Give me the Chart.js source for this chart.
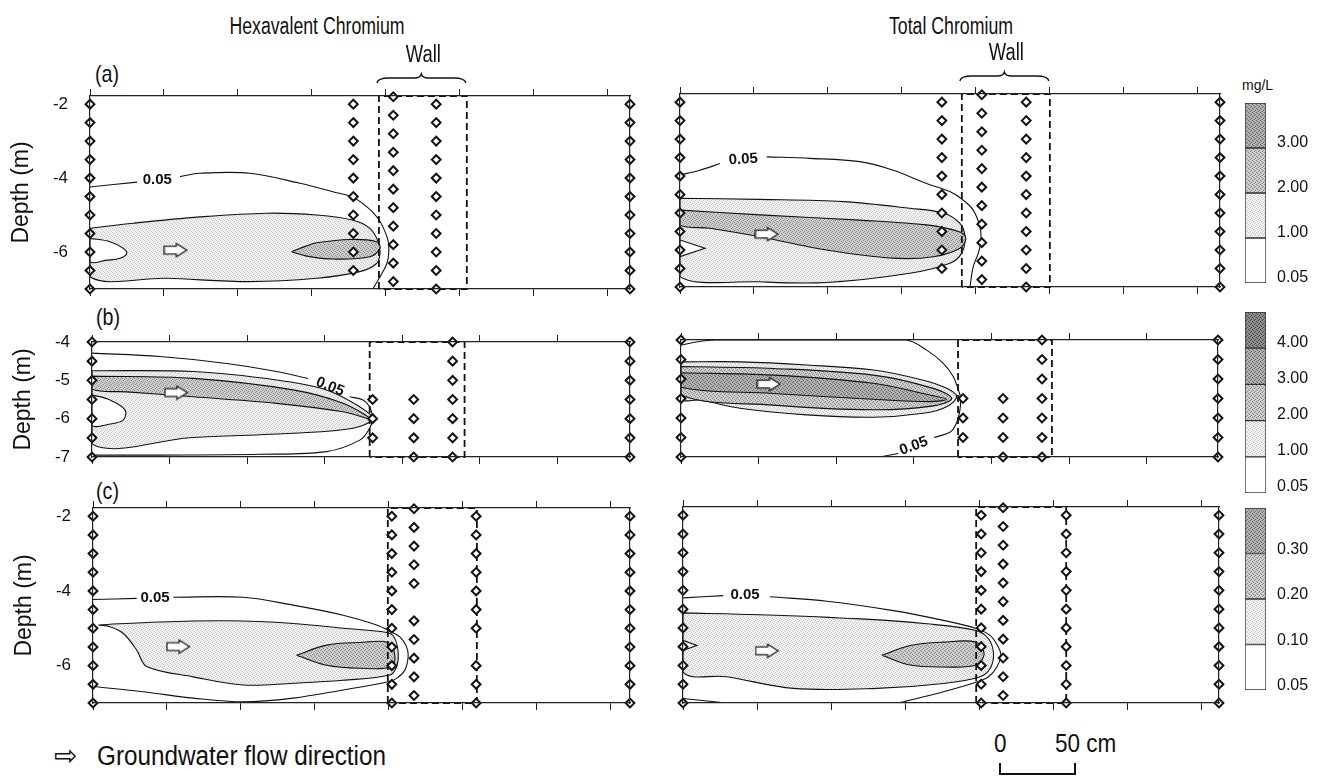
<!DOCTYPE html>
<html>
<head>
<meta charset="utf-8">
<title>Chromium plume cross-sections</title>
<script src="https://cdn.jsdelivr.net/npm/chart.js@4.4.1/dist/chart.umd.min.js"></script>
<style>
  html, body { margin:0; padding:0; background:#fff; }
  #fig { position:relative; width:1322px; height:779px; overflow:hidden; background:#fff;
         font-family:"Liberation Sans", Arial, Helvetica, sans-serif; color:#111; }
  #fig canvas { position:absolute; }
  .t { position:absolute; white-space:nowrap; line-height:1; }
  .n { transform-origin:0 50%; transform:scaleX(0.82); }
  .c { transform:translateX(-50%) scaleX(0.77); }
</style>
</head>
<body>
<div id="fig">
  <div class="t c" style="left:317px;top:15px;font-size:23px;">Hexavalent Chromium</div>
  <div class="t c" style="left:951px;top:15px;font-size:23px;">Total Chromium</div>
  <div class="t n" style="left:95px;top:62px;font-size:24px;">(a)</div>
  <div class="t n" style="left:96px;top:305px;font-size:24px;">(b)</div>
  <div class="t n" style="left:96px;top:479px;font-size:24px;">(c)</div>
  <div class="t" style="left:1242px;top:78px;font-size:14px;">mg/L</div>
  <div class="t" style="left:54px;top:742px;font-size:28px;font-family:'DejaVu Sans',sans-serif;">&#8680;</div>
  <div class="t n" style="left:97px;top:743px;font-size:27px;transform:scaleX(0.9);">Groundwater flow direction</div>
  <div class="t" style="left:994px;top:731px;font-size:25px;transform-origin:0 50%;transform:scaleX(0.9);">0</div>
  <div class="t n" style="left:1055px;top:731px;font-size:25px;transform:scaleX(0.9);">50 cm</div>
  <div style="position:absolute;left:999px;top:763px;width:73px;height:10px;border:2px solid #111;border-top:none;"></div>
</div>
<script>
// ---------------- DATA ----------------
// x: distance along the flow path (cm), y: depth (m)
const X_TICKS = [0, 50, 100, 150, 200, 250, 300, 350];
const Y_TICKS_AC = [-2, -4, -6];
const Y_TICKS_B = [-4, -5, -6, -7];

// sampling depths of the monitoring wells (m)
const D_FULL = [-2, -2.5, -3, -3.5, -4, -4.5, -5, -5.5, -6, -6.5, -7];
const D_UP   = [-2, -2.5, -3, -3.5, -4, -4.5, -5, -5.5, -6, -6.5];
const D_OFF  = [-1.8, -2.3, -2.8, -3.3, -3.8, -4.3, -4.8, -5.3, -5.8, -6.3, -6.8];
const D_B    = [-4, -4.5, -5, -5.5, -6, -6.5, -7];
const D_B3   = [-5.5, -6, -6.5];
const D_B4   = [-5.5, -6, -6.5, -7];
const D_C_MID = [-1.8, -2.3, -2.8, -3.3, -3.8, -4.8, -5.3, -5.8, -6.3, -6.8];
const D_C_WALL = [-2, -2.5, -3, -3.5, -4, -4.5, -5, -6, -6.5, -7];

// well columns (x in cm)
const wellsA_hex = [{x:0,d:D_FULL},{x:178,d:D_UP},{x:205,d:D_OFF},{x:234,d:D_FULL},{x:365,d:D_FULL}];
const wellsA_tot = [{x:0,d:D_FULL},{x:177,d:D_UP},{x:204,d:D_OFF},{x:234,d:D_FULL},{x:365,d:D_FULL}];
const wellsB_hex = [{x:0,d:D_B},{x:181,d:D_B3},{x:207.5,d:D_B4},{x:232.6,d:D_B},{x:347,d:D_B}];
const wellsB_tot = [{x:0,d:D_B},{x:181.7,d:D_B3},{x:207.5,d:D_B4},{x:232.6,d:D_B},{x:346,d:D_B}];
const wellsC_hex = [{x:0,d:D_FULL},{x:202,d:D_FULL},{x:217,d:D_C_MID},{x:259,d:D_C_WALL},{x:363,d:D_FULL}];
const wellsC_tot = [{x:0,d:D_FULL},{x:201.4,d:D_FULL},{x:216.2,d:D_OFF},{x:258.8,d:D_FULL},{x:362,d:D_FULL}];

// reactive wall extent (cm)
const wallA_hex = [195.3, 254.7], wallA_tot = [190.5, 250];
const wallB_hex = [179.1, 240.3], wallB_tot = [178.5, 239];
const wallC_hex = [199.3, 259.5], wallC_tot = [198, 258.8];

// flow-direction arrow positions
const arrowA_hex = [{x:58, y:-5.95}], arrowA_tot = [{x:58.8, y:-5.57}];
const arrowB_hex = [{x:54.4, y:-5.32}], arrowB_tot = [{x:56.7, y:-5.13}];
const arrowC_hex = [{x:57.8, y:-5.49}], arrowC_tot = [{x:56.8, y:-5.61}];

// ---- contours, panel (a) hexavalent ----
const hexA_c005a = [{x:0,y:-4.24},{x:31.8,y:-4.11}];
const hexA_c005b = [{x:60.8,y:-3.96},{x:74.3,y:-3.87},{x:108.1,y:-3.87},{x:141.9,y:-4.14},{x:164.2,y:-4.37},{x:177.7,y:-4.52},{x:187.2,y:-4.78},{x:193.9,y:-5.05},{x:198,y:-5.32},{x:201.4,y:-5.68},{x:202,y:-5.99},{x:200.7,y:-6.31},{x:197.3,y:-6.58},{x:191.2,y:-7.0}];
const hexA_c1 = [{x:0,y:-5.36},{x:29.3,y:-5.22},{x:74.3,y:-5.05},{x:119.4,y:-4.95},{x:153.2,y:-5.0},{x:177.9,y:-5.14},{x:189.2,y:-5.36},{x:194.8,y:-5.72},{x:196,y:-6.04},{x:193.7,y:-6.31},{x:182.4,y:-6.53},{x:153.2,y:-6.71},{x:108.1,y:-6.8},{x:51.8,y:-6.71},{x:0,y:-6.67},{x:0,y:-5.36}];
const hexA_hole = [{x:0,y:-5.63},{x:13.5,y:-5.72},{x:22.5,y:-5.9},{x:24.8,y:-6.04},{x:20.3,y:-6.17},{x:11.3,y:-6.22},{x:0,y:-6.26},{x:0,y:-5.63}];
const hexA_c2 = [{x:136.3,y:-5.99},{x:146,y:-5.84},{x:153.2,y:-5.75},{x:175.7,y:-5.66},{x:193.7,y:-5.72},{x:196,y:-5.9},{x:189.2,y:-6.13},{x:164.4,y:-6.19},{x:146.4,y:-6.11},{x:136.3,y:-5.99}];
const hexA_lbl = [{x:45.5, y:-4.05, text:'0.05', rot:0}];

// ---- contours, panel (a) total ----
const totA_c005a = [{x:0,y:-3.97},{x:13.5,y:-3.84},{x:27,y:-3.66}];
const totA_c005b = [{x:58.6,y:-3.48},{x:87.8,y:-3.52},{x:121.6,y:-3.61},{x:144.1,y:-3.84},{x:166.7,y:-4.2},{x:182.4,y:-4.42},{x:191.4,y:-4.65},{x:198.2,y:-4.92},{x:202.7,y:-5.37},{x:203.4,y:-5.73},{x:201.6,y:-6.09},{x:198.2,y:-6.45},{x:196,y:-7}];
const totA_c1 = [{x:0,y:-4.6},{x:54,y:-4.63},{x:110.4,y:-4.69},{x:155.4,y:-4.87},{x:177.9,y:-5.0},{x:189.2,y:-5.28},{x:192.6,y:-5.64},{x:190.3,y:-6.09},{x:182.4,y:-6.36},{x:155.4,y:-6.63},{x:99.1,y:-6.88},{x:54,y:-6.86},{x:0,y:-6.72},{x:0,y:-4.6}];
const totA_c2 = [{x:0,y:-4.92},{x:54,y:-5.05},{x:121.6,y:-5.19},{x:166.7,y:-5.32},{x:189.2,y:-5.51},{x:193.2,y:-5.68},{x:189.2,y:-5.95},{x:171.2,y:-6.18},{x:144.1,y:-6.22},{x:99.1,y:-6.0},{x:54,y:-5.64},{x:20.3,y:-5.41},{x:0,y:-5.32},{x:0,y:-4.92}];
const totA_hole = [{x:0,y:-5.73},{x:16.9,y:-5.95},{x:0,y:-6.18},{x:0,y:-5.73}];
const totA_lbl = [{x:42.8, y:-3.55, text:'0.05', rot:-4}];

// ---- contours, panel (b) hexavalent ----
const hexB_c005a = [{x:0,y:-4.29},{x:43.8,y:-4.38},{x:86.8,y:-4.56},{x:119,y:-4.77},{x:139.4,y:-4.95}];
const hexB_c005b = [{x:166.2,y:-5.43},{x:174.8,y:-5.51},{x:179.1,y:-5.69},{x:180.9,y:-6.0},{x:179.1,y:-6.25},{x:172.7,y:-6.56},{x:151.2,y:-6.86},{x:108.2,y:-6.93},{x:43.8,y:-6.95},{x:0,y:-6.95}];
const hexB_c1 = [{x:0,y:-4.75},{x:65.3,y:-4.77},{x:119,y:-4.99},{x:151.2,y:-5.25},{x:172.7,y:-5.69},{x:180.9,y:-6.0},{x:168.4,y:-6.25},{x:129.7,y:-6.38},{x:65.3,y:-6.49},{x:0,y:-6.66},{x:0,y:-4.75}];
const hexB_c2 = [{x:0,y:-4.89},{x:65.3,y:-4.95},{x:129.7,y:-5.25},{x:161.9,y:-5.6},{x:179.1,y:-6.0},{x:161.9,y:-5.82},{x:119,y:-5.6},{x:65.3,y:-5.43},{x:22.3,y:-5.3},{x:0,y:-5.23},{x:0,y:-4.89}];
const hexB_hole = [{x:0,y:-5.38},{x:11.6,y:-5.51},{x:21.3,y:-5.77},{x:20.2,y:-6.03},{x:11.6,y:-6.14},{x:0,y:-6.17},{x:0,y:-5.38}];
const hexB_lbl = [{x:153.5, y:-5.17, text:'0.05', rot:22}];

// ---- contours, panel (b) total ----
const totB_c005a = [{x:0,y:-4.13},{x:10,y:-4.05},{x:22,y:-4.0},{x:80,y:-4.0},{x:145,y:-4.0},{x:158.3,y:-4.26},{x:169,y:-4.6},{x:175.5,y:-4.94},{x:178.7,y:-5.28},{x:180.2,y:-5.5},{x:179.5,y:-5.85},{x:177.4,y:-6.14},{x:173.5,y:-6.36},{x:163,y:-6.5}];
const totB_c005b = [{x:140,y:-6.91},{x:128,y:-7.0}];
const totB_c1 = [{x:0,y:-4.56},{x:38,y:-4.56},{x:81,y:-4.64},{x:123.9,y:-4.77},{x:156.1,y:-5.03},{x:171.2,y:-5.24},{x:177.6,y:-5.45},{x:171.2,y:-5.71},{x:156.1,y:-5.88},{x:123.9,y:-5.98},{x:81,y:-5.92},{x:38,y:-5.75},{x:12.2,y:-5.54},{x:0,y:-5.51},{x:0,y:-4.56}];
const totB_c2 = [{x:0,y:-4.68},{x:59.5,y:-4.73},{x:123.9,y:-4.9},{x:162.6,y:-5.24},{x:174.4,y:-5.5},{x:162.6,y:-5.69},{x:123.9,y:-5.79},{x:59.5,y:-5.67},{x:0,y:-5.41},{x:0,y:-4.68}];
const totB_c3 = [{x:0,y:-4.84},{x:59.5,y:-4.9},{x:123.9,y:-5.11},{x:160.4,y:-5.41},{x:171.2,y:-5.52},{x:160.4,y:-5.58},{x:123.9,y:-5.52},{x:59.5,y:-5.37},{x:0,y:-5.21},{x:0,y:-4.84}];
const totB_lbl = [{x:150, y:-6.72, text:'0.05', rot:-20}];

// ---- contours, panel (c) hexavalent ----
const hexC_c005a = [{x:0,y:-4.23},{x:29.5,y:-4.2}];
const hexC_c005b = [{x:54.3,y:-4.17},{x:101.6,y:-4.17},{x:135.3,y:-4.38},{x:169.1,y:-4.65},{x:191.7,y:-4.91},{x:199.5,y:-5.05},{x:207.4,y:-5.23},{x:211.9,y:-5.49},{x:213,y:-5.76},{x:210.8,y:-6.12},{x:205.2,y:-6.34},{x:199.5,y:-6.43},{x:169.1,y:-6.65},{x:135.3,y:-6.87},{x:101.6,y:-6.97},{x:67.8,y:-6.87},{x:34,y:-6.7},{x:0,y:-6.56}];
const hexC_c01 = [{x:3.6,y:-4.91},{x:45.3,y:-4.83},{x:90.3,y:-4.8},{x:135.3,y:-4.87},{x:169.1,y:-5.0},{x:199.5,y:-5.12},{x:204,y:-5.27},{x:206.3,y:-5.67},{x:205.2,y:-6.03},{x:200.7,y:-6.25},{x:169.1,y:-6.39},{x:135.3,y:-6.47},{x:101.6,y:-6.52},{x:67.8,y:-6.3},{x:36.3,y:-6.02},{x:29.5,y:-5.58},{x:20.5,y:-5.14},{x:11.5,y:-4.96},{x:3.6,y:-4.91}];
const hexC_c02 = [{x:137.6,y:-5.72},{x:157.9,y:-5.45},{x:180.4,y:-5.38},{x:199.5,y:-5.38},{x:204,y:-5.72},{x:201.8,y:-6.03},{x:180.4,y:-6.07},{x:157.9,y:-5.99},{x:137.6,y:-5.72}];
const hexC_lbl = [{x:41.9, y:-4.19, text:'0.05', rot:0}];

// ---- contours, panel (c) total ----
const totC_c005a = [{x:0,y:-4.2},{x:27.2,y:-4.14}];
const totC_c005b = [{x:58.8,y:-4.17},{x:97.1,y:-4.29},{x:142.1,y:-4.54},{x:175.9,y:-4.8},{x:198.4,y:-5.02},{x:207.4,y:-5.2},{x:213,y:-5.51},{x:214.7,y:-5.73},{x:212,y:-6.04},{x:206.3,y:-6.3},{x:198.4,y:-6.44},{x:175.9,y:-6.7},{x:146.6,y:-6.99}];
const totC_c005c = [{x:0,y:-6.88},{x:29.5,y:-7.0}];
const totC_c01 = [{x:0,y:-4.6},{x:52,y:-4.65},{x:119.6,y:-4.76},{x:164.7,y:-4.89},{x:198,y:-5.07},{x:206.3,y:-5.29},{x:209.7,y:-5.69},{x:207.4,y:-6.08},{x:200.7,y:-6.3},{x:175.9,y:-6.48},{x:130.9,y:-6.61},{x:74.5,y:-6.61},{x:29.5,y:-6.3},{x:0,y:-6.17},{x:0,y:-4.6}];
const totC_hole = [{x:0,y:-5.33},{x:9.3,y:-5.47},{x:0,y:-5.6},{x:0,y:-5.33}];
const totC_c02 = [{x:134.3,y:-5.73},{x:153.4,y:-5.47},{x:175.9,y:-5.38},{x:198,y:-5.38},{x:203.4,y:-5.69},{x:198,y:-5.99},{x:175.9,y:-6.04},{x:153.4,y:-5.99},{x:134.3,y:-5.73}];
const totC_lbl = [{x:41.9, y:-4.13, text:'0.05', rot:0}];

// colour-bar levels
const cbA_labels = ['0.05', '1.00', '2.00', '3.00'];
const cbB_labels = ['0.05', '1.00', '2.00', '3.00', '4.00'];
const cbC_labels = ['0.05', '0.10', '0.20', '0.30'];

// ---------------- STYLE ----------------
const FONT = '"Liberation Sans", Arial, Helvetica, sans-serif';
function stipple(base, dot) {
  const c = document.createElement('canvas');
  c.width = 4; c.height = 4;
  const g = c.getContext('2d');
  g.fillStyle = base; g.fillRect(0, 0, 4, 4);
  g.fillStyle = dot;
  [[0,0],[2,1],[1,2],[3,3]].forEach(p => g.fillRect(p[0], p[1], 1, 1));
  return g.createPattern(c, 'repeat');
}
const G0 = '#ffffff';
const G1 = stipple('#efefef', '#cbcbcb');
const G2 = stipple('#cdcdcd', '#8a8a8a');
const G3 = stipple('#b0b0b0', '#6a6a6a');
const G4 = stipple('#8c8c8c', '#4a4a4a');
const cbA_colors = [G0, G1, G2, G3];
const cbB_colors = [G0, G1, G2, G3, G4];
const cbC_colors = [G0, G1, G2, G3];

const fig = document.getElementById('fig');

function makeArrow(w, h) {
  const c = document.createElement('canvas');
  c.width = w; c.height = h;
  const g = c.getContext('2d');
  const sh = h * 0.24, hx = w * 0.52;
  g.fillStyle = '#fff'; g.strokeStyle = '#222'; g.lineWidth = 1.3; g.lineJoin = 'miter';
  g.beginPath();
  g.moveTo(1, h/2 - sh); g.lineTo(hx, h/2 - sh); g.lineTo(hx, 1.5);
  g.lineTo(w - 1.5, h/2); g.lineTo(hx, h - 1.5); g.lineTo(hx, h/2 + sh); g.lineTo(1, h/2 + sh);
  g.closePath(); g.fill(); g.stroke();
  return c;
}
const arrowImg = makeArrow(25, 16);

function wellPoints(cols) {
  const pts = [];
  cols.forEach(c => c.d.forEach(d => pts.push({x: c.x, y: d})));
  return pts;
}
function wallBox(w, ymax) {
  return [{x:w[0],y:-7},{x:w[0],y:ymax},{x:w[1],y:ymax},{x:w[1],y:-7},{x:w[0],y:-7}];
}

function textPlugin(items) {
  return {
    id: 'contourText',
    afterDatasetsDraw(chart) {
      const ctx = chart.ctx, sx = chart.scales.x, sy = chart.scales.y;
      items.forEach(it => {
        ctx.save();
        ctx.translate(sx.getPixelForValue(it.x), sy.getPixelForValue(it.y));
        ctx.rotate((it.rot || 0) * Math.PI / 180);
        ctx.font = 'bold 15px ' + FONT;
        ctx.fillStyle = '#111';
        ctx.textAlign = 'center'; ctx.textBaseline = 'middle';
        ctx.fillText(it.text, 0, 0);
        ctx.restore();
      });
    }
  };
}

function bracePlugin(wall) {
  return {
    id: 'wallBrace',
    afterDraw(chart) {
      const ctx = chart.ctx, sx = chart.scales.x, ca = chart.chartArea;
      const x0 = sx.getPixelForValue(wall[0]) - 2, x1 = sx.getPixelForValue(wall[1]) - 1, xm = (x0 + x1) / 2;
      const yb = ca.top - 13, ym = ca.top - 18, yt = ca.top - 22;
      ctx.save();
      ctx.strokeStyle = '#111'; ctx.lineWidth = 1.3;
      ctx.beginPath();
      ctx.moveTo(x0, yb);
      ctx.quadraticCurveTo(x0 + 1, ym, x0 + 12, ym);
      ctx.lineTo(xm - 7, ym);
      ctx.quadraticCurveTo(xm - 1, ym, xm, yt);
      ctx.quadraticCurveTo(xm + 1, ym, xm + 7, ym);
      ctx.lineTo(x1 - 12, ym);
      ctx.quadraticCurveTo(x1 - 1, ym, x1, yb);
      ctx.stroke();
      ctx.translate(xm + 2, ca.top - 40);
      ctx.scale(0.8, 1);
      ctx.font = '23px ' + FONT;
      ctx.fillStyle = '#111'; ctx.textAlign = 'center'; ctx.textBaseline = 'middle';
      ctx.fillText('Wall', 0, 0);
      ctx.restore();
    }
  };
}

function xAxis(pos, xmax, h) {
  return {
    type: 'linear', position: pos, axis: 'x', min: 0, max: xmax,
    afterBuildTicks: sc => { sc.ticks = X_TICKS.filter(v => v <= xmax).map(v => ({value: v})); },
    ticks: {display: false},
    grid: {display: true, drawOnChartArea: false, drawTicks: true, tickLength: 7, color: '#222', lineWidth: 1},
    border: {display: true, color: '#222', width: 1.2, z: 1},
    afterFit: sc => { sc.height = h; sc.paddingLeft = 0; sc.paddingRight = 0; }
  };
}

function buildPanel(g, s) {
  const yW = g.labels ? 90 : 10, rW = 10, topH = g.topH || 12, botH = 12;
  const W = yW + g.w + rW, H = topH + g.h + botH;
  const cv = document.createElement('canvas');
  cv.width = W; cv.height = H;
  cv.style.left = (g.x - yW) + 'px'; cv.style.top = (g.y - topH) + 'px';
  cv.style.width = W + 'px'; cv.style.height = H + 'px';
  fig.appendChild(cv);

  const ds = [];
  ds.push({label: 'wells', data: wellPoints(s.wells), showLine: false, pointStyle: 'rectRot',
           pointRadius: 4.4, pointBorderWidth: 2, pointBorderColor: '#111', pointBackgroundColor: '#fff',
           borderColor: '#111', backgroundColor: '#fff', clip: false, order: 0});
  ds.push({label: 'flow', data: s.arrow, showLine: false, pointStyle: arrowImg, pointRadius: 6, clip: false, order: 1});
  ds.push({label: 'wall', data: wallBox(s.wall, s.ymax), showLine: true, fill: false, borderColor: '#111',
           borderWidth: 1.8, borderDash: [7, 4], pointRadius: 0, tension: 0, clip: false, order: 2});
  s.lines.forEach(ln => ds.push({
    label: ln.name, data: ln.data, showLine: true,
    fill: ln.fill ? 'shape' : false, backgroundColor: ln.fill || 'rgba(0,0,0,0)',
    borderColor: '#111', borderWidth: 1.1, pointRadius: 0,
    tension: (ln.tension === undefined ? 0.35 : ln.tension), order: ln.order
  }));

  const plugins = [textPlugin(s.labels)];
  if (s.brace) plugins.push(bracePlugin(s.wall));

  new Chart(cv, {
    type: 'scatter',
    data: {datasets: ds},
    plugins: plugins,
    options: {
      responsive: false, animation: false, events: [],
      layout: {padding: 0, autoPadding: false},
      plugins: {legend: {display: false}, tooltip: {enabled: false}},
      scales: {
        x: xAxis('bottom', s.xmax, botH),
        x2: xAxis('top', s.xmax, topH),
        y: {
          type: 'linear', position: 'left', axis: 'y', min: -7, max: s.ymax,
          afterBuildTicks: sc => { sc.ticks = s.yticks.map(v => ({value: v})); },
          ticks: {display: !!g.labels, font: {family: FONT, size: 17}, color: '#111', padding: 22},
          grid: {display: false, drawTicks: false},
          border: {display: true, color: '#222', width: 1.2, z: 1},
          title: {display: !!g.labels, text: 'Depth (m)', font: {family: FONT, size: 23}, color: '#111', padding: {top: 8, bottom: 0}},
          afterFit: sc => { sc.width = yW; sc.paddingTop = 0; sc.paddingBottom = 0; }
        },
        y2: {
          type: 'linear', position: 'right', axis: 'y', min: -7, max: s.ymax,
          ticks: {display: false}, grid: {display: false, drawTicks: false},
          border: {display: true, color: '#222', width: 1.2, z: 1},
          afterFit: sc => { sc.width = rW; sc.paddingTop = 0; sc.paddingBottom = 0; }
        }
      }
    }
  });
}

function buildColorbar(g, labels, colors, offset) {
  const pad = 10, aw = 60;
  const cv = document.createElement('canvas');
  const W = g.w + aw, H = g.h + 2 * pad;
  cv.width = W; cv.height = H;
  cv.style.left = g.x + 'px'; cv.style.top = (g.y - pad) + 'px';
  cv.style.width = W + 'px'; cv.style.height = H + 'px';
  fig.appendChild(cv);
  new Chart(cv, {
    type: 'bar',
    data: {
      labels: ['level'],
      datasets: colors.map((col, i) => ({
        label: labels[i], data: [1], backgroundColor: col, borderColor: '#333', borderWidth: 1,
        borderSkipped: false, barPercentage: 1, categoryPercentage: 1, stack: 's'
      }))
    },
    options: {
      responsive: false, animation: false, events: [],
      layout: {padding: {top: pad, bottom: pad, left: 0, right: 0}, autoPadding: false},
      plugins: {legend: {display: false}, tooltip: {enabled: false}},
      scales: {
        x: {display: false, stacked: true},
        y: {
          position: 'right', stacked: true, min: 0, max: colors.length,
          afterBuildTicks: sc => { sc.ticks = labels.map((l, i) => ({value: i})); },
          ticks: {callback: (v, i) => labels[i], font: {family: FONT, size: 16}, color: '#111', padding: 11, labelOffset: offset},
          grid: {display: false, drawTicks: false}, border: {display: false},
          afterFit: sc => { sc.width = aw; sc.paddingTop = 0; sc.paddingBottom = 0; }
        }
      }
    }
  });
}

// ---------------- PANELS ----------------
buildPanel({x: 90, y: 96, w: 540, h: 193, labels: true, topH: 52},
  {xmax: 365, ymax: -1.78, yticks: Y_TICKS_AC, wells: wellsA_hex, wall: wallA_hex, arrow: arrowA_hex, labels: hexA_lbl, brace: true,
   lines: [
     {name: '0.05', data: hexA_c005a, order: 10},
     {name: '0.05', data: hexA_c005b, order: 10},
     {name: '1.00', data: hexA_c1, fill: G1, order: 9},
     {name: '<1.00', data: hexA_hole, fill: G0, order: 8},
     {name: '2.00', data: hexA_c2, fill: G2, order: 7}
   ]});
buildPanel({x: 680, y: 94, w: 540, h: 193, labels: false, topH: 52},
  {xmax: 365, ymax: -1.78, yticks: Y_TICKS_AC, wells: wellsA_tot, wall: wallA_tot, arrow: arrowA_tot, labels: totA_lbl, brace: true,
   lines: [
     {name: '0.05', data: totA_c005a, order: 10},
     {name: '0.05', data: totA_c005b, order: 10},
     {name: '1.00', data: totA_c1, fill: G1, order: 9},
     {name: '2.00', data: totA_c2, fill: G2, order: 8},
     {name: '<1.00', data: totA_hole, fill: G0, order: 7, tension: 0}
   ]});
buildPanel({x: 92, y: 342, w: 538, h: 115, labels: true},
  {xmax: 347, ymax: -4, yticks: Y_TICKS_B, wells: wellsB_hex, wall: wallB_hex, arrow: arrowB_hex, labels: hexB_lbl,
   lines: [
     {name: '0.05', data: hexB_c005a, order: 10},
     {name: '0.05', data: hexB_c005b, order: 10},
     {name: '1.00', data: hexB_c1, fill: G1, order: 9},
     {name: '<1.00', data: hexB_hole, fill: G0, order: 8},
     {name: '2.00', data: hexB_c2, fill: G2, order: 7}
   ]});
buildPanel({x: 681, y: 340, w: 537, h: 117, labels: false},
  {xmax: 346, ymax: -4, yticks: Y_TICKS_B, wells: wellsB_tot, wall: wallB_tot, arrow: arrowB_tot, labels: totB_lbl,
   lines: [
     {name: '0.05', data: totB_c005a, order: 10},
     {name: '0.05', data: totB_c005b, order: 10},
     {name: '1.00', data: totB_c1, fill: G1, order: 9},
     {name: '2.00', data: totB_c2, fill: G2, order: 8},
     {name: '3.00', data: totB_c3, fill: G3, order: 7}
   ]});
buildPanel({x: 93, y: 508, w: 537, h: 195, labels: true},
  {xmax: 363, ymax: -1.78, yticks: Y_TICKS_AC, wells: wellsC_hex, wall: wallC_hex, arrow: arrowC_hex, labels: hexC_lbl,
   lines: [
     {name: '0.05', data: hexC_c005a, order: 10},
     {name: '0.05', data: hexC_c005b, order: 10},
     {name: '0.10', data: hexC_c01, fill: G1, order: 9},
     {name: '0.20', data: hexC_c02, fill: G2, order: 8}
   ]});
buildPanel({x: 683, y: 507, w: 536, h: 196, labels: false},
  {xmax: 362, ymax: -1.78, yticks: Y_TICKS_AC, wells: wellsC_tot, wall: wallC_tot, arrow: arrowC_tot, labels: totC_lbl,
   lines: [
     {name: '0.05', data: totC_c005a, order: 10},
     {name: '0.05', data: totC_c005b, order: 10},
     {name: '0.05', data: totC_c005c, order: 10},
     {name: '0.10', data: totC_c01, fill: G1, order: 9},
     {name: '<0.10', data: totC_hole, fill: G0, order: 8, tension: 0},
     {name: '0.20', data: totC_c02, fill: G2, order: 7}
   ]});

// ---------------- COLOUR BARS ----------------
buildColorbar({x: 1245, y: 103, w: 21, h: 180}, cbA_labels, cbA_colors, -5);
buildColorbar({x: 1245, y: 312, w: 21, h: 181}, cbB_labels, cbB_colors, -6);
buildColorbar({x: 1245, y: 508, w: 21, h: 182}, cbC_labels, cbC_colors, -4);
</script>
</body>
</html>
